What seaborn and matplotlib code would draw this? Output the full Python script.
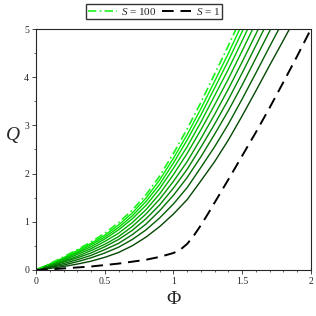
import matplotlib
matplotlib.use("Agg")
import matplotlib.pyplot as plt
import seaborn as sns
import numpy as np
from matplotlib.ticker import MultipleLocator

# Phi grid (every 0.1)
phi = [0.0, 0.1, 0.2, 0.3, 0.4, 0.5, 0.6, 0.7, 0.8, 0.9, 1.0,
       1.1, 1.2, 1.3, 1.4, 1.5, 1.6, 1.7, 1.8, 1.9, 2.0]

# S = 100 (dash-dot, bright green)
q_s100 = [0, 0.13, 0.27, 0.42, 0.58, 0.76, 0.98, 1.24, 1.56, 1.95, 2.42,
          2.93, 3.48, 4.07, 4.66, 5.28]

# intermediate S values, solid, light -> dark
q_mid = [
    [0, 0.12, 0.25, 0.40, 0.55, 0.72, 0.93, 1.18, 1.49, 1.87, 2.32, 2.81, 3.35, 3.92, 4.50, 5.11],
    [0, 0.11, 0.24, 0.37, 0.52, 0.68, 0.88, 1.12, 1.42, 1.78, 2.22, 2.70, 3.22, 3.78, 4.35, 4.95, 5.55],
    [0, 0.11, 0.22, 0.35, 0.48, 0.64, 0.83, 1.06, 1.34, 1.69, 2.11, 2.56, 3.07, 3.62, 4.17, 4.76, 5.36],
    [0, 0.10, 0.20, 0.32, 0.44, 0.59, 0.76, 0.98, 1.25, 1.58, 1.98, 2.42, 2.91, 3.43, 3.97, 4.55, 5.14],
    [0, 0.08, 0.18, 0.28, 0.40, 0.53, 0.69, 0.90, 1.16, 1.47, 1.84, 2.25, 2.73, 3.23, 3.76, 4.32, 4.90, 5.49],
    [0, 0.07, 0.16, 0.25, 0.35, 0.48, 0.63, 0.82, 1.06, 1.35, 1.70, 2.09, 2.55, 3.03, 3.54, 4.09, 4.66, 5.24],
    [0, 0.06, 0.13, 0.21, 0.30, 0.42, 0.55, 0.73, 0.95, 1.23, 1.55, 1.92, 2.35, 2.82, 3.31, 3.84, 4.40, 4.96, 5.52],
    [0, 0.05, 0.10, 0.17, 0.25, 0.35, 0.47, 0.63, 0.83, 1.08, 1.37, 1.71, 2.13, 2.56, 3.03, 3.55, 4.09, 4.64, 5.18],
    [0, 0.03, 0.07, 0.12, 0.18, 0.26, 0.36, 0.50, 0.68, 0.90, 1.16, 1.46, 1.85, 2.25, 2.70, 3.20, 3.72, 4.25, 4.77, 5.30],
]

# S = 1 (dashed, black), finer near the knee
phi_s1 = [0.0, 0.1, 0.2, 0.3, 0.4, 0.5, 0.6, 0.7, 0.8, 0.9, 1.0, 1.05, 1.1,
          1.15, 1.2, 1.25, 1.3, 1.4, 1.5, 1.6, 1.7, 1.8, 1.9, 2.0]
q_s1 = [0, 0.01, 0.03, 0.05, 0.07, 0.10, 0.13, 0.17, 0.21, 0.27, 0.35, 0.42, 0.54,
        0.72, 0.93, 1.16, 1.40, 1.88, 2.37, 2.86, 3.37, 3.90, 4.44, 5.0]

sns.set_style("ticks")
plt.rcParams['font.family'] = ['Liberation Serif', 'DejaVu Serif']
plt.rcParams['mathtext.fontset'] = 'custom'
plt.rcParams['mathtext.it'] = 'Liberation Serif:italic'
plt.rcParams['mathtext.rm'] = 'Liberation Serif'

fig = plt.figure(figsize=(3.16, 3.16), dpi=100)
ax = fig.add_axes([0.114, 0.146, 0.870, 0.762])

light = np.array([0.0, 0.92, 0.0])
dark = np.array([0.02, 0.28, 0.02])
n = len(q_mid)
for i, q in enumerate(q_mid):
    t = i / (n - 1)
    col = tuple(light * (1 - t) + dark * t)
    sns.lineplot(x=phi[:len(q)], y=q, ax=ax, color=col, lw=1.0, sort=False)

sns.lineplot(x=phi[:len(q_s100)], y=q_s100, ax=ax, color=(0.1, 0.95, 0.1), lw=1.2,
             linestyle=(0, (5, 2, 1, 2)), sort=False)
sns.lineplot(x=phi_s1, y=q_s1, ax=ax, color='black', lw=1.4,
             linestyle=(0, (6, 3.5)), sort=False)

ax.set_xlim(0, 2)
ax.set_ylim(0, 5)
ax.xaxis.set_major_locator(MultipleLocator(0.5))
ax.xaxis.set_minor_locator(MultipleLocator(0.1))
ax.yaxis.set_major_locator(MultipleLocator(1))
ax.yaxis.set_minor_locator(MultipleLocator(0.5))
ax.set_xticks([0, 0.5, 1, 1.5, 2])
ax.set_xticklabels(['0', '0.5', '1', '1.5', '2'])
ax.tick_params(which='major', labelsize=7, length=3, width=0.6, pad=2)
ax.tick_params(which='minor', length=1.5, width=0.5)
for s in ax.spines.values():
    s.set_linewidth(0.8)

ax.set_xlabel('Φ', fontsize=14, labelpad=4)
ax.set_ylabel(r'$Q$', fontsize=14, rotation=0, labelpad=8)
ax.yaxis.set_label_coords(-0.085, 0.52)

lines = ax.get_lines()
h100 = lines[-2]
h1 = lines[-1]
fig.legend([h100, h1], [r'$S$ = 100', r'$S$ = 1'], loc='center', ncol=2,
           bbox_to_anchor=(0.487, 0.963), fontsize=8, frameon=True, fancybox=False,
           edgecolor='black', handlelength=2.6, columnspacing=0.5, handletextpad=0.4,
           borderpad=0.2, borderaxespad=0)

fig.savefig('out.png', dpi=100)
